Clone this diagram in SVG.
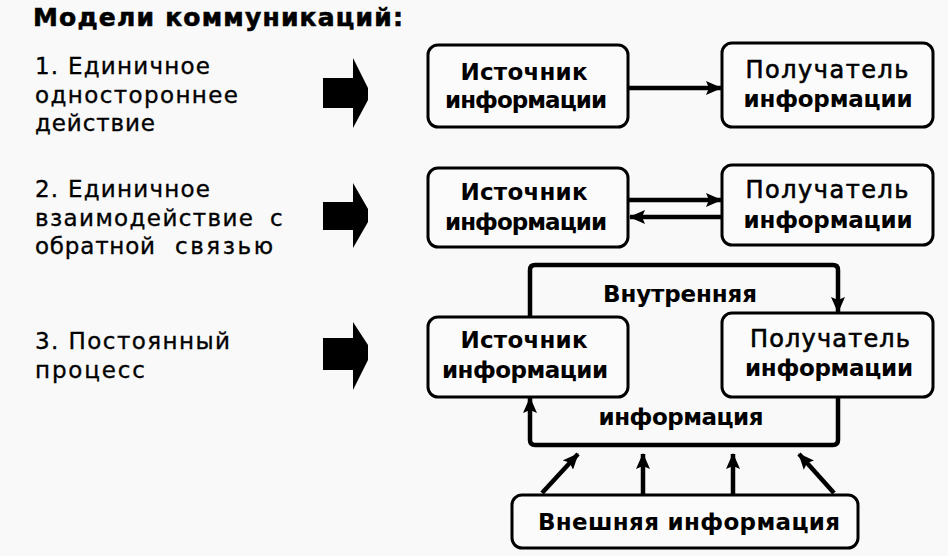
<svg xmlns="http://www.w3.org/2000/svg" width="948" height="556" viewBox="0 0 948 556">
<defs>
<style>
.bg{fill:#f9f9f9}
.box{fill:#fbfbfb;stroke:#000;stroke-width:3}
.lt{font-family:"DejaVu Sans","Liberation Sans",sans-serif;font-size:23px;fill:#000;stroke:#000;stroke-width:0.35}
.bt{font-family:"DejaVu Sans","Liberation Sans",sans-serif;font-size:23px;font-weight:bold;fill:#000;text-anchor:middle}
.rt{font-family:"DejaVu Sans","Liberation Sans",sans-serif;font-size:24px;fill:#000;text-anchor:middle;stroke:#000;stroke-width:0.6}
.title{font-family:"DejaVu Sans","Liberation Sans",sans-serif;font-size:25px;font-weight:bold;fill:#000;stroke:#000;stroke-width:0.6}
.ln{fill:none;stroke:#000;stroke-width:4.5;stroke-linejoin:round}
.big{fill:#000}
</style>
<marker id="ah" viewBox="0 0 16 14" refX="15" refY="7" markerWidth="16" markerHeight="14" markerUnits="userSpaceOnUse" orient="auto">
<path d="M0,0 L16,7 L0,14 L3,7 Z" fill="#000"/>
</marker>
</defs>
<rect class="bg" x="0" y="0" width="948" height="556"/>

<g id="title">
<text class="title" x="33" y="26" textLength="370">Модели коммуникаций:</text>
</g>

<g id="labels">
<text class="lt" x="35" y="74" textLength="175">1. Единичное</text>
<text class="lt" x="35" y="103" textLength="203">одностороннее</text>
<text class="lt" x="35" y="131" textLength="120">действие</text>
<text class="lt" x="35" y="197" textLength="175">2. Единичное</text>
<text class="lt" x="35" y="226"><tspan textLength="218">взаимодействие</tspan><tspan x="270">с</tspan></text>
<text class="lt" x="35" y="254"><tspan textLength="120">обратной</tspan><tspan x="175" textLength="98">связью</tspan></text>
<text class="lt" x="35" y="349" textLength="195">3. Постоянный</text>
<text class="lt" x="35" y="378" textLength="110">процесс</text>
</g>

<g id="big-arrows">
<polygon class="big" points="323,78 353,78 353,58 368,88 368,100 353,128 353,108 323,108"/>
<polygon class="big" points="323,202 353,202 353,183 368,209 368,222 353,248 353,230 323,230"/>
<polygon class="big" points="323,338 353,338 353,322 368,345 368,360 353,390 353,370 323,370"/>
</g>

<g id="src1">
<rect class="box" x="428" y="45" width="200" height="82" rx="10"/>
<text class="bt" x="524" y="80" textLength="127">Источник</text>
<text class="bt" x="526" y="108" textLength="162">информации</text>
</g>
<g id="rcv1">
<rect class="box" x="722" y="43" width="211" height="84" rx="10"/>
<text class="rt" x="827" y="78" textLength="163">Получатель</text>
<text class="bt" x="828" y="107" textLength="169">информации</text>
</g>

<g id="src2">
<rect class="box" x="428" y="168" width="200" height="79" rx="10"/>
<text class="bt" x="524" y="200" textLength="127">Источник</text>
<text class="bt" x="526" y="230" textLength="162">информации</text>
</g>
<g id="rcv2">
<rect class="box" x="722" y="165" width="211" height="80" rx="10"/>
<text class="rt" x="827" y="198" textLength="163">Получатель</text>
<text class="bt" x="828" y="228" textLength="169">информации</text>
</g>

<g id="src3">
<rect class="box" x="428" y="317" width="200" height="80" rx="10"/>
<text class="bt" x="524" y="348" textLength="127">Источник</text>
<text class="bt" x="525" y="378" textLength="166">информации</text>
</g>
<g id="rcv3">
<rect class="box" x="722" y="313" width="211" height="84" rx="10"/>
<text class="rt" x="830" y="347" textLength="160">Получатель</text>
<text class="bt" x="829" y="376" textLength="168">информации</text>
</g>

<g id="ext">
<rect class="box" x="512" y="495" width="346" height="53" rx="10"/>
<text class="bt" x="689" y="530" textLength="302">Внешняя информация</text>
</g>

<g id="loop-labels">
<text class="bt" x="680" y="302" textLength="154">Внутренняя</text>
<text class="bt" x="681" y="425" textLength="165">информация</text>
</g>

<g id="connectors">
<line class="ln" x1="628" y1="88" x2="721" y2="88" marker-end="url(#ah)"/>
<line class="ln" x1="628" y1="200" x2="721" y2="200" marker-end="url(#ah)"/>
<line class="ln" x1="722" y1="217" x2="630" y2="217" marker-end="url(#ah)"/>
<path class="ln" d="M530,317 V270 Q530,265 535,265 H833 Q838,265 838,270 V312" marker-end="url(#ah)"/>
<path class="ln" d="M838,397 V440 Q838,445 833,445 H535 Q530,445 530,440 V398" marker-end="url(#ah)"/>
<line class="ln" x1="542" y1="493" x2="578" y2="454" marker-end="url(#ah)"/>
<line class="ln" x1="643" y1="495" x2="643" y2="454" marker-end="url(#ah)"/>
<line class="ln" x1="733" y1="495" x2="733" y2="454" marker-end="url(#ah)"/>
<line class="ln" x1="834" y1="493" x2="799" y2="454" marker-end="url(#ah)"/>
</g>
</svg>
